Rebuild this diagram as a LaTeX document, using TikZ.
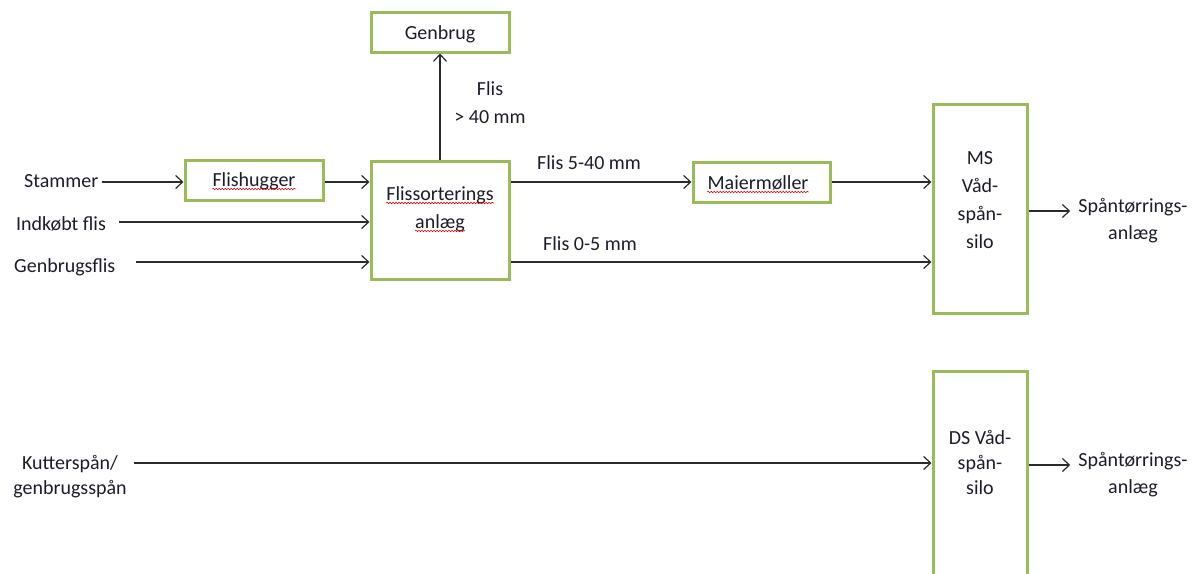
\documentclass[tikz,border=0pt]{standalone}
\usepackage{fontspec}
\setmainfont{Carlito}
\usetikzlibrary{arrows.meta,decorations.pathmorphing}
\definecolor{boxgreen}{HTML}{9BBB59}
\definecolor{ink}{HTML}{2B2B2B}
\definecolor{txt}{HTML}{1C1C2C}
\begin{document}
\begin{tikzpicture}[x=1pt,y=-1pt,
  font=\fontsize{20}{28}\selectfont,
  box/.style={draw=boxgreen, line width=3pt, fill=white, rectangle, inner sep=0pt},
  lbl/.style={text=txt, inner sep=0pt, anchor=base},
  flow/.style={draw=ink, line width=1.2pt, -{Straight Barb[length=7pt,width=13pt,line width=1.2pt]}},
  spell/.style={draw=red!85!black, line width=0.6pt, decorate,
    decoration={snake, amplitude=0.7pt, segment length=3pt}}]
\useasboundingbox (0,0) rectangle (1201,573);
\clip (0,0) rectangle (1201,573);

% process boxes
\node[box, minimum width=138pt, minimum height=40pt] (genbrug) at (440,32) {};
\node[box, minimum width=138pt, minimum height=40pt] (flishugger) at (254,180) {};
\node[box, minimum width=138pt, minimum height=118pt] (flissort) at (440,220) {};
\node[box, minimum width=137pt, minimum height=40pt] (maier) at (761.5,182) {};
\node[box, minimum width=94pt, minimum height=209pt] (ms) at (980,208.5) {};
\node[box, minimum width=94pt, minimum height=218pt] (ds) at (980,480) {};

% box texts (a multi-line node sits on the baseline of its last line)
\node[lbl] (genbrugT) at (440,39) {Genbrug};
\node[lbl] (flishuggerT) at (254,186) {Flishugger};
\node[lbl] (flissortT1) at (440,200) {Flissorterings};
\node[lbl] (flissortT2) at (440,228) {anlæg};
\node[lbl] (maierT) at (758,189) {Maiermøller};
\node[lbl, align=center] (msT) at (980,248) {MS\\Våd-\\spån-\\silo};
\node[lbl, align=center, font=\fontsize{20}{25}\selectfont] (dsT) at (980,494) {DS Våd-\\spån-\\silo};

% spell-check marks under the words
\draw[spell] ([yshift=-3pt]flishuggerT.base west) -- ([yshift=-3pt]flishuggerT.base east);
\draw[spell] ([yshift=-3pt]flissortT1.base west) -- ([yshift=-3pt]flissortT1.base east);
\draw[spell] ([yshift=-3pt]flissortT2.base west) -- ([yshift=-3pt]flissortT2.base east);
\draw[spell] ([yshift=-3pt]maierT.base west) -- ([yshift=-3pt]maierT.base east);

% inputs
\node[lbl, anchor=base west] (stammer) at (24,187) {Stammer};
\node[lbl, anchor=base west] (indk) at (16,230) {Indkøbt flis};
\node[lbl, anchor=base west] (genbrflis) at (14,272) {Genbrugsflis};
\node[lbl, align=center, font=\fontsize{20}{25}\selectfont] (kutter) at (70,494) {Kutterspån/\\genbrugsspån};

% outputs and flow labels
\node[lbl, align=center] (flisbig) at (490,123) {Flis\\> 40 mm};
\node[lbl, anchor=base west] (flis540) at (537,169) {Flis 5-40 mm};
\node[lbl, anchor=base west] (flis05) at (543,250) {Flis 0-5 mm};
\node[lbl, align=center, font=\fontsize{20}{27}\selectfont] (out1) at (1133,239) {Spåntørrings-\\anlæg};
\node[lbl, align=center, font=\fontsize{20}{27}\selectfont] (out2) at (1133,493) {Spåntørrings-\\anlæg};

% connection points
\coordinate (in1) at ([yshift=-2pt]flishugger.west);
\coordinate (in2) at ([yshift=-2pt]flissort.west);
\coordinate (in3) at ([yshift=-42pt]flissort.west);
\coordinate (in4) at ([yshift=17pt]ds.west);
\coordinate (msout) at ([yshift=-2.5pt]ms.east);
\coordinate (dsout) at ([yshift=15pt]ds.east);
\coordinate (sortout) at ([yshift=-42pt]flissort.east);

% flows
\draw[flow] ([xshift=3pt]stammer.east |- in1) -- (in1);
\draw[flow] (flishugger.east |- in1) -- (in1 -| flissort.west);
\draw[flow] ([xshift=13pt]indk.east |- in2) -- (in2);
\draw[flow] ([xshift=20pt]genbrflis.east |- in3) -- (in3);
\draw[flow] (flissort.north) -- (genbrug.south);
\draw[flow] (flissort.east |- maier.west) -- (maier.west);
\draw[flow] (maier.east) -- (maier.east -| ms.west);
\draw[flow] (sortout) -- (sortout -| ms.west);
\draw[flow, shorten >=8pt] (msout) -- (msout -| out1.west);
\draw[flow] ([xshift=7pt]kutter.east |- in4) -- (in4);
\draw[flow, shorten >=8pt] (dsout) -- (dsout -| out2.west);
\end{tikzpicture}
\end{document}
